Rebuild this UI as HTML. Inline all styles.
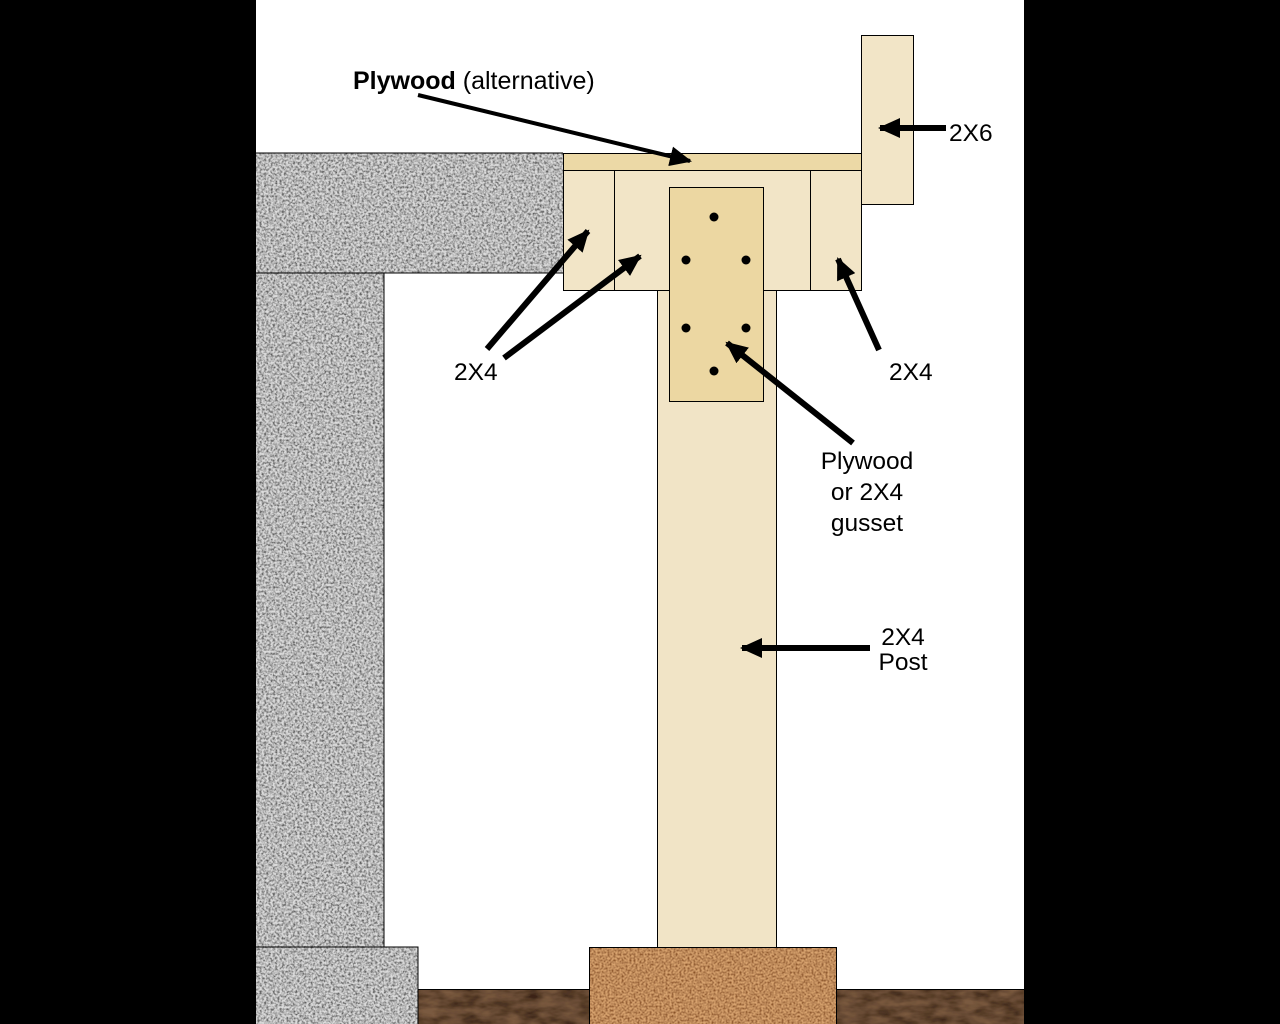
<!DOCTYPE html>
<html><head><meta charset="utf-8"><style>
html,body{margin:0;padding:0;background:#000;width:1280px;height:1024px;overflow:hidden}
svg{display:block}
text{font-family:"Liberation Sans",Arial,sans-serif;fill:#000}
</style></head><body>
<svg width="1280" height="1024" viewBox="0 0 1280 1024" xmlns="http://www.w3.org/2000/svg">
<defs>
<filter id="granite" x="0" y="0" width="100%" height="100%">
<feTurbulence type="fractalNoise" baseFrequency="0.45" numOctaves="2" seed="3" result="n"/>
<feColorMatrix in="n" type="matrix" values="0 0 0 0 0  0 0 0 0 0  0 0 0 0 0  0 0 0 -2.2 1.5" result="a"/>
<feFlood flood-color="#dcdcdc" result="bg"/>
<feFlood flood-color="#606060" result="fg"/>
<feComposite in="fg" in2="a" operator="in" result="dots"/>
<feMerge><feMergeNode in="bg"/><feMergeNode in="dots"/></feMerge>
<feComposite in2="SourceGraphic" operator="in"/>
</filter>
<filter id="cork" x="0" y="0" width="100%" height="100%">
<feTurbulence type="fractalNoise" baseFrequency="0.5" numOctaves="2" seed="7" result="n"/>
<feColorMatrix in="n" type="matrix" values="0 0 0 0 0  0 0 0 0 0  0 0 0 0 0  0 0 0 -2 1.4" result="a"/>
<feFlood flood-color="#d9a470" result="bg"/>
<feFlood flood-color="#8a5228" result="fg"/>
<feComposite in="fg" in2="a" operator="in" result="dots"/>
<feMerge><feMergeNode in="bg"/><feMergeNode in="dots"/></feMerge>
<feComposite in2="SourceGraphic" operator="in"/>
</filter>
<filter id="dirt" x="0" y="0" width="100%" height="100%">
<feTurbulence type="fractalNoise" baseFrequency="0.05 0.12" numOctaves="3" seed="2" result="n"/>
<feColorMatrix in="n" type="matrix" values="0 0 0 0 0  0 0 0 0 0  0 0 0 0 0  0 0 0 -1.5 1.2" result="a"/>
<feFlood flood-color="#7a5a40" result="bg"/>
<feFlood flood-color="#3a2416" result="fg"/>
<feComposite in="fg" in2="a" operator="in" result="dots"/>
<feMerge><feMergeNode in="bg"/><feMergeNode in="dots"/></feMerge>
<feComposite in2="SourceGraphic" operator="in"/>
</filter>
<marker id="ah" viewBox="0 0 22 20" refX="20" refY="10" markerWidth="22" markerHeight="20" markerUnits="userSpaceOnUse" orient="auto">
<path d="M0,0 L22,10 L0,20 Z" fill="#000"/>
</marker>
</defs>
<rect x="256" y="0" width="768" height="1024" fill="#fff"/>
<rect x="256" y="153" width="307" height="120" fill="#aaa" filter="url(#granite)"/>
<rect x="256" y="273" width="128" height="674" fill="#aaa" filter="url(#granite)"/>
<rect x="256" y="947" width="162" height="77" fill="#aaa" filter="url(#granite)"/>
<path d="M256,153 H563 M256,273 H563 M384,273 V947 M256,947 H418 V1024" stroke="#000" fill="none" stroke-width="1"/>
<rect x="418.5" y="989.5" width="171" height="40" fill="#553" filter="url(#dirt)"/>
<rect x="836.5" y="989.5" width="187.5" height="40" fill="#553" filter="url(#dirt)"/>
<path d="M418,989.5 H589 M836,989.5 H1024" stroke="#000"/>
<rect x="589" y="947" width="247" height="80" fill="#c8925a" filter="url(#cork)"/>
<rect x="589.5" y="947.5" width="247" height="80" fill="none" stroke="#000"/>
<rect x="657.5" y="290.5" width="119" height="657" fill="#f1e4c6" stroke="#000"/>
<rect x="563.5" y="170.5" width="51" height="120" fill="#f2e5c7" stroke="#000"/>
<rect x="614.5" y="170.5" width="196" height="120" fill="#f2e5c7" stroke="#000"/>
<rect x="810.5" y="170.5" width="51" height="120" fill="#f2e5c7" stroke="#000"/>
<rect x="563.5" y="153.5" width="298" height="17" fill="#ecd9a6" stroke="#000"/>
<rect x="861.5" y="35.5" width="52" height="169" fill="#f2e5c7" stroke="#000"/>
<rect x="669.5" y="187.5" width="94" height="214" fill="#ecd7a2" stroke="#000"/>
<g fill="#000">
<circle cx="714" cy="217" r="4.5"/><circle cx="686" cy="260" r="4.5"/><circle cx="746" cy="260" r="4.5"/>
<circle cx="686" cy="328" r="4.5"/><circle cx="746" cy="328" r="4.5"/><circle cx="714" cy="371" r="4.5"/>
</g>
<g stroke="#000" stroke-width="6" fill="none" marker-end="url(#ah)">
<line x1="418" y1="95" x2="690" y2="161" stroke-width="4"/>
<line x1="946" y1="128" x2="880" y2="128"/>
<line x1="487" y1="349" x2="588" y2="231"/>
<line x1="504" y1="358" x2="640" y2="256"/>
<line x1="879" y1="350" x2="838" y2="259"/>
<line x1="853" y1="443" x2="727" y2="343"/>
<line x1="870" y1="648" x2="742" y2="648"/>
</g>
<text x="353" y="89" font-size="25"><tspan font-weight="bold">Plywood</tspan> (alternative)</text>
<text x="949" y="141" font-size="24.5">2X6</text>
<text x="454" y="380" font-size="24.5">2X4</text>
<text x="889" y="380" font-size="24.5">2X4</text>
<text x="867" y="469" font-size="24.5" text-anchor="middle">Plywood</text>
<text x="867" y="500" font-size="24.5" text-anchor="middle">or 2X4</text>
<text x="867" y="531" font-size="24.5" text-anchor="middle">gusset</text>
<text x="903" y="645" font-size="24.5" text-anchor="middle">2X4</text>
<text x="903" y="670" font-size="24.5" text-anchor="middle">Post</text>
</svg>
</body></html>
